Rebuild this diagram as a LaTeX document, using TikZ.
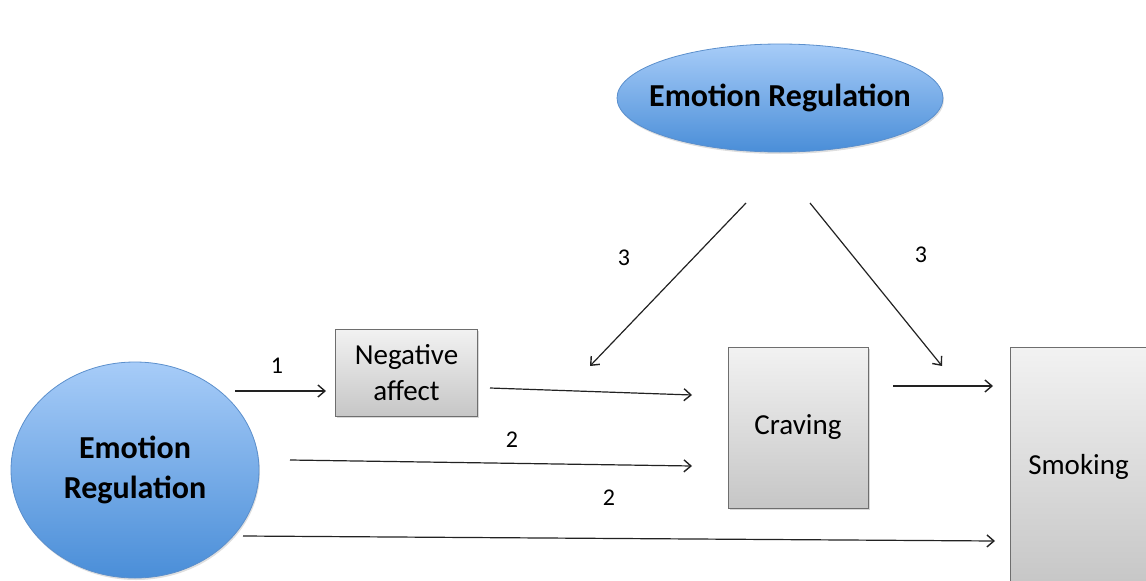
\documentclass[tikz,border=0pt]{standalone}
\usepackage{fontspec}
\setmainfont{Carlito}
\usetikzlibrary{shapes.geometric,arrows.meta,shadows}
\definecolor{bluetop}{HTML}{A7CCF8}
\definecolor{bluebot}{HTML}{4A8ED8}
\definecolor{blueline}{HTML}{5B8FCC}
\definecolor{graytop}{HTML}{F2F2F2}
\definecolor{graybot}{HTML}{C6C6C6}
\definecolor{grayline}{HTML}{6E6E6E}
\definecolor{arrline}{HTML}{222222}
\tikzset{
  erell/.style={ellipse, draw=blueline, line width=0.8pt, top color=bluetop, bottom color=bluebot,
    font=\fontsize{32}{40}\selectfont\bfseries, align=center, inner sep=0pt,
    drop shadow={opacity=0.25, shadow xshift=1pt, shadow yshift=-2pt}},
  varbox/.style={rectangle, draw=grayline, line width=1pt, top color=graytop, bottom color=graybot,
    font=\fontsize{29}{36}\selectfont, align=center, inner sep=0pt,
    drop shadow={opacity=0.3, shadow xshift=1.5pt, shadow yshift=-1.5pt}},
  arr/.style={draw=arrline, line width=1.2pt, -{Straight Barb[length=7pt,width=12pt,line width=1.4pt]}},
  numlab/.style={font=\fontsize{24}{28}\selectfont, inner sep=0pt}
}
\begin{document}
\begin{tikzpicture}[x=1pt,y=-1pt]
\useasboundingbox (0,0) rectangle (1146,581);
\begin{scope}
\clip (0,0) rectangle (1146,581);
% nodes
\node[erell, inner xsep=-20pt, minimum width=326pt, minimum height=108pt] (ERtop) at (780,98) {Emotion Regulation};
\node[erell, minimum width=248pt, minimum height=216pt] (ERleft) at (135,470) {Emotion\\Regulation};
\node[varbox, minimum width=142pt, minimum height=87pt] (NA) at (406.5,372.5) {Negative\\affect};
\node[varbox, minimum width=140pt, minimum height=161pt] (CR) at (798,427.5) {Craving};
\node[varbox, minimum width=145pt, minimum height=240pt] (SM) at (1082.5,467) {\hspace*{-8pt}Smoking};
\end{scope}
% coordinates for free arrow ends
\coordinate (a1s) at (235,391);
\coordinate (a1e) at (326,391);
\coordinate (a2s) at (490,388);
\coordinate (a2e) at (692,395);
\coordinate (a3s) at (290,460);
\coordinate (a3e) at (692,466);
\coordinate (a4s) at (243,536);
\coordinate (a4e) at (995,541);
\coordinate (a5s) at (893,386);
\coordinate (a5e) at (993,386);
\coordinate (a6s) at (746,203);
\coordinate (a6e) at (590,366);
\coordinate (a7s) at (810,203);
\coordinate (a7e) at (942,366);
% connectors
\draw[arr] (a1s) -- (a1e);
\draw[arr] (a2s) -- (a2e);
\draw[arr] (a3s) -- (a3e);
\draw[arr] (a4s) -- (a4e);
\draw[arr] (a5s) -- (a5e);
\draw[arr] (a6s) -- (a6e);
\draw[arr] (a7s) -- (a7e);
% labels
\node[numlab] (l1) at (277,366) {1};
\node[numlab] (l2a) at (512,440) {2};
\node[numlab] (l2b) at (609,498) {2};
\node[numlab] (l3a) at (624,258) {3};
\node[numlab] (l3b) at (921,255) {3};
\end{tikzpicture}
\end{document}
